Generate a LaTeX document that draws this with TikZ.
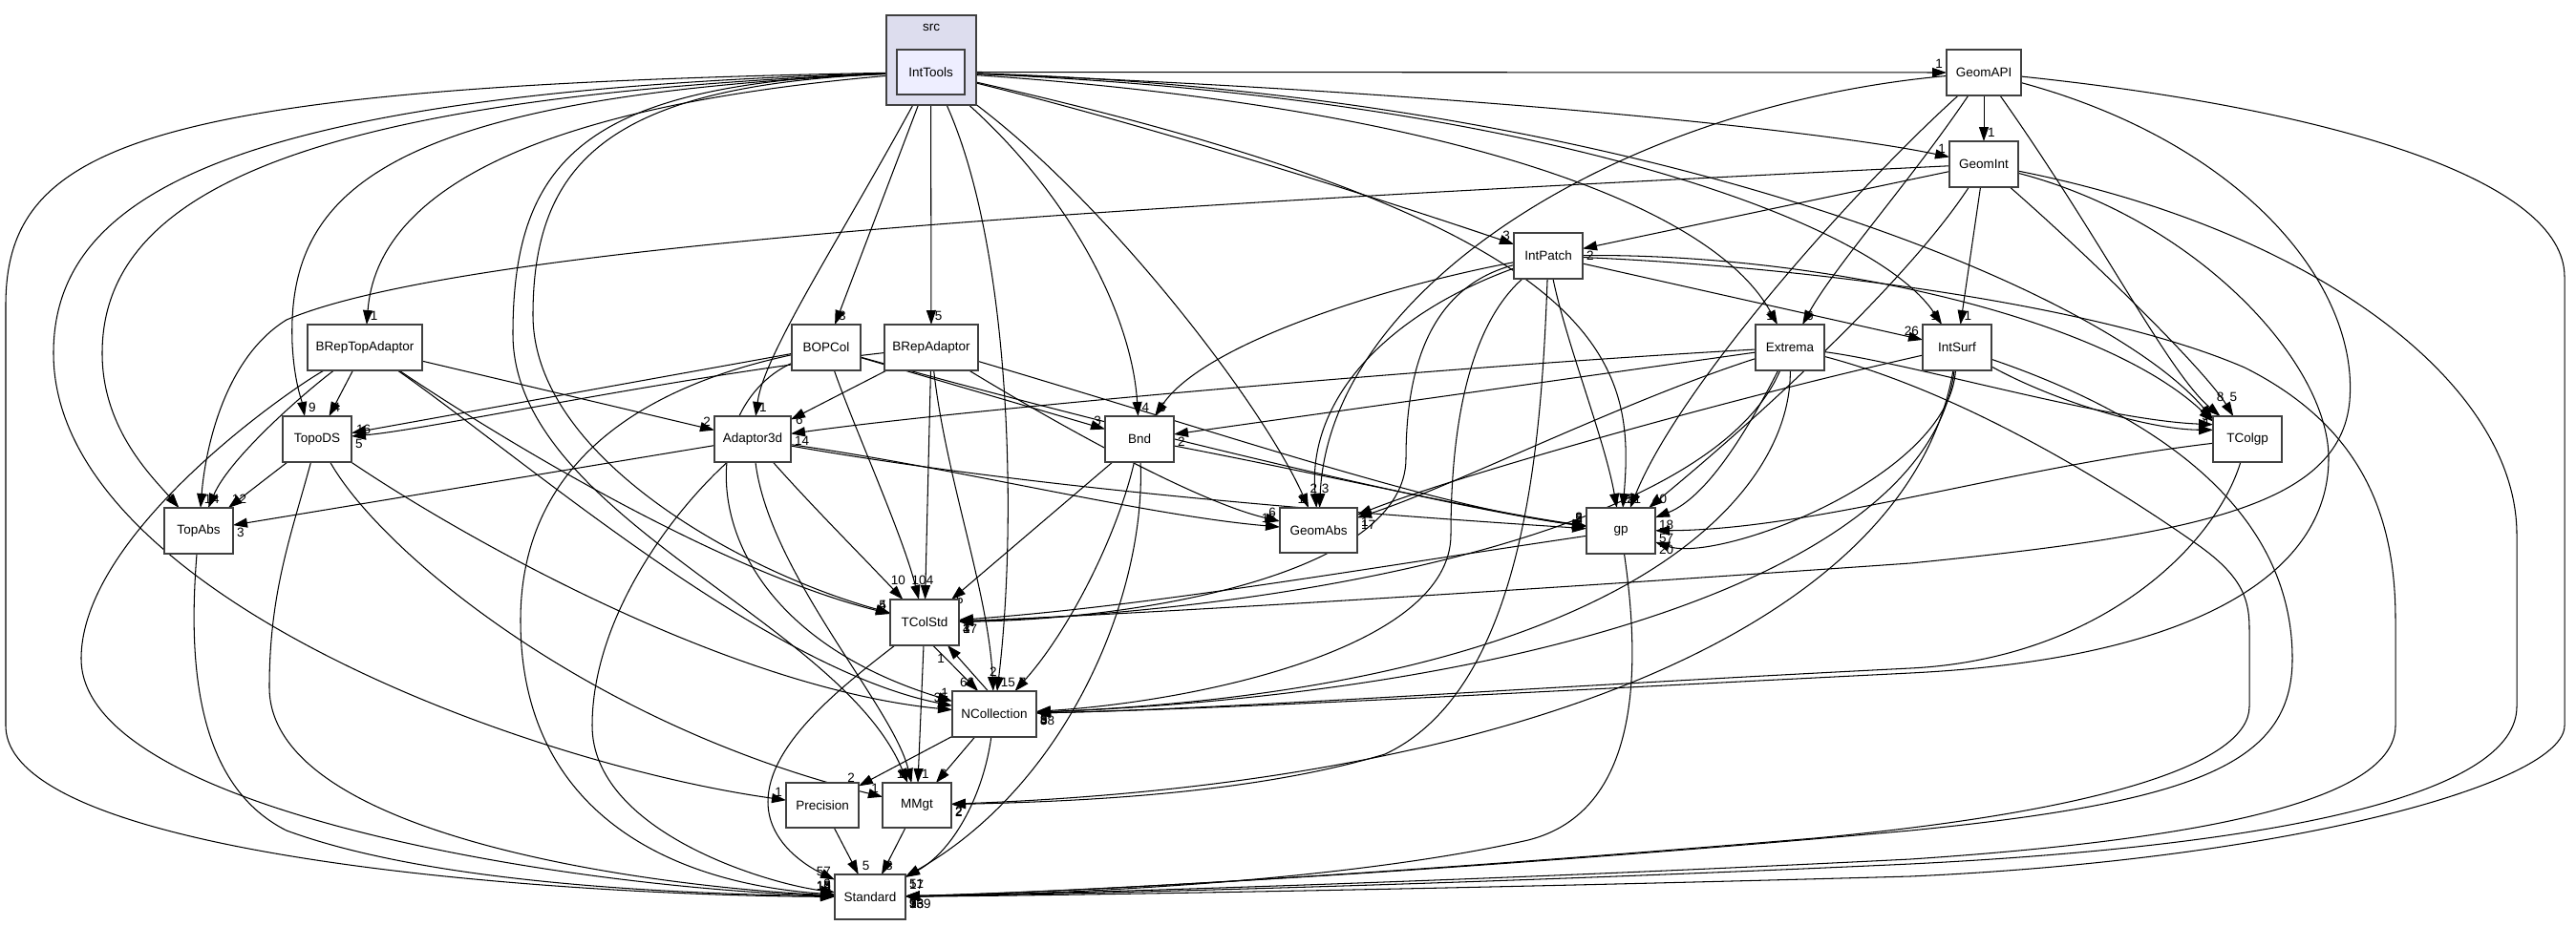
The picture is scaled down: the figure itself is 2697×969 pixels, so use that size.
\documentclass[tikz,border=0pt]{standalone}
\usepackage{fontspec}
\setmainfont{Liberation Sans}
\usetikzlibrary{arrows.meta}
\pgfdeclarelayer{edgelayer}
\pgfdeclarelayer{bglayer}
\pgfsetlayers{bglayer,edgelayer,main}
\definecolor{clusterfill}{HTML}{DDDDEE}
\definecolor{mainfill}{HTML}{EEEEFF}
\definecolor{boxline}{HTML}{404040}
\newcommand{\lblfont}{\fontsize{13.5}{14}\selectfont}
\begin{document}
\begin{tikzpicture}[x=1pt,y=-1pt,
  box/.style={draw=boxline, line width=1.4pt, fill=white, minimum height=48pt, minimum width=72pt, inner sep=0pt, outer sep=0pt, font=\lblfont},
  dep/.style={draw=black, line width=1.05pt, -{Triangle[length=15pt,width=10pt]}},
  lbl/.style={font=\lblfont, inner sep=0.5pt, text=black},
  la/.style={lbl, anchor=south west, xshift=3pt, yshift=3pt},
  lb/.style={lbl, anchor=south east, xshift=-3pt, yshift=3pt},
  lc/.style={lbl, anchor=north west, xshift=3pt, yshift=-2pt},
  lu/.style={lbl, anchor=south, yshift=14pt},
  lr/.style={lbl, anchor=west, xshift=4pt},
]
\useasboundingbox (0,0) rectangle (2697,969);
\begin{pgfonlayer}{bglayer}
\fill[white] (0,0) rectangle (2697,969);
\end{pgfonlayer}

% cluster
\node[draw=boxline, line width=1.4pt, fill=clusterfill, minimum width=94pt, minimum height=94pt, inner sep=0pt] (srcbox) at (975,63) {};
\node[lbl] (srclabel) at (975,29) {src};

% nodes
\node[box, fill=mainfill, minimum width=71pt, minimum height=47pt] (IntTools) at (974.5,75.5) {IntTools};
\node[box, minimum width=78pt] (GeomAPI) at (2077,76) {GeomAPI};
\node[box] (GeomInt) at (2077,172) {GeomInt};
\node[box] (IntPatch) at (1621,268) {IntPatch};
\node[box, minimum width=120pt] (BRepTopAdaptor) at (382,364) {BRepTopAdaptor};
\node[box] (BOPCol) at (865,364) {BOPCol};
\node[box, minimum width=98pt] (BRepAdaptor) at (975,364) {BRepAdaptor};
\node[box] (Extrema) at (1874,364) {Extrema};
\node[box] (IntSurf) at (2049,364) {IntSurf};
\node[box] (TopoDS) at (332,460) {TopoDS};
\node[box, minimum width=80pt] (Adaptor3d) at (788,460) {Adaptor3d};
\node[box] (Bnd) at (1193,460) {Bnd};
\node[box] (TColgp) at (2353,460) {TColgp};
\node[box] (TopAbs) at (208,556) {TopAbs};
\node[box, minimum width=81pt, minimum height=47pt] (GeomAbs) at (1380.5,555.5) {GeomAbs};
\node[box] (gp) at (1697,556) {gp};
\node[box] (TColStd) at (968,652) {TColStd};
\node[box, minimum width=88pt] (NCollection) at (1041,748) {NCollection};
\node[box, minimum width=76pt, minimum height=47pt] (Precision) at (861,843.5) {Precision};
\node[box, minimum height=47pt] (MMgt) at (960,843.5) {MMgt};
\node[box, minimum width=74pt, minimum height=47pt] (Standard) at (911,939.5) {Standard};

\begin{pgfonlayer}{edgelayer}
% IntTools
\draw[dep] (IntTools) -- (GeomAPI) node[at end, lb]{1};
\draw[dep] (IntTools) .. controls (1500,95) and (1900,135) .. (GeomInt) node[at end, lb]{1};
\draw[dep] (IntTools) .. controls (1200,130) and (1450,210) .. (IntPatch) node[at end, lb]{3};
\draw[dep] (IntTools) .. controls (1500,110) and (1790,210) .. (Extrema) node[at end, lb]{1};
\draw[dep] (IntTools) .. controls (1600,100) and (1960,230) .. (IntSurf) node[at end, lb]{1};
\draw[dep] (IntTools) .. controls (1700,95) and (2200,300) .. (TColgp.150) node[at end, lb]{1};
\draw[dep] (IntTools) .. controls (1690,235) and (1712,380) .. (gp) node[at end, la]{2};
\draw[dep] (IntTools) .. controls (1150,200) and (1320,420) .. (GeomAbs) node[at end, lb]{1};
\draw[dep] (IntTools) .. controls (1120,200) and (1185,330) .. (Bnd) node[at end, la]{4};
\draw[dep] (IntTools) -- (BRepAdaptor) node[at end, la]{5};
\draw[dep] (IntTools) -- (BOPCol) node[at end, la]{3};
\draw[dep] (IntTools) .. controls (880,250) and (800,370) .. (Adaptor3d) node[at end, la]{1};
\draw[dep] (IntTools) .. controls (1060,250) and (1065,550) .. (NCollection) node[at end, la]{15};
\draw[dep] (IntTools) .. controls (650,88) and (558,160) .. (558,330) .. controls (558,480) and (780,600) .. (TColStd) node[at end, lb]{4};
\draw[dep] (IntTools) .. controls (620,86) and (537,160) .. (537,350) .. controls (537,540) and (880,650) .. (MMgt) node[at end, lb]{1};
\draw[dep] (IntTools) .. controls (250,95) and (56,200) .. (56,370) .. controls (56,620) and (550,800) .. (Precision) node[at end, lb]{1};
\draw[dep] (IntTools) .. controls (150,90) and (6,150) .. (6,320) -- (6,760) .. controls (6,900) and (600,938) .. (Standard) node[at end, lb]{5};
\draw[dep] (IntTools) .. controls (320,100) and (107,200) .. (107,370) .. controls (107,450) and (160,500) .. (TopAbs) node[at end, lb]{6};
\draw[dep] (IntTools) .. controls (400,100) and (300,200) .. (306,360) .. controls (308,400) and (316,420) .. ([xshift=-13pt]TopoDS.north) node[at end, la]{9};
\draw[dep] (IntTools) .. controls (560,110) and (395,200) .. (BRepTopAdaptor) node[at end, la]{1};

% GeomAPI
\draw[dep] (GeomAPI) -- (GeomInt) node[at end, la]{1};
\draw[dep] (GeomAPI) .. controls (1950,190) and (1760,400) .. (gp) node[at end, la]{1};
\draw[dep] (GeomAPI) .. controls (2000,190) and (1920,280) .. (Extrema) node[at end, la]{6};
\draw[dep] (GeomAPI) .. controls (2200,250) and (2270,390) .. (TColgp) node[at end, lu]{8};
\draw[dep] (GeomAPI) .. controls (1700,110) and (1392,300) .. (GeomAbs) node[at end, lu, xshift=6pt]{3};
\draw[dep] (GeomAPI) .. controls (2350,150) and (2470,300) .. (2460,420) .. controls (2450,530) and (2300,560) .. (2000,590) .. controls (1500,625) and (1150,645) .. (TColStd) node[at end, lc]{37};
\draw[dep] (GeomAPI) .. controls (2450,115) and (2685,190) .. (2685,290) -- (2685,760) .. controls (2685,820) and (2400,900) .. (2000,918) .. controls (1500,932) and (1100,938) .. (Standard) node[at end, lc]{139};

% GeomInt
\draw[dep] (GeomInt) -- (IntPatch) node[at end, lc]{2};
\draw[dep] (GeomInt) -- (IntSurf) node[at end, la]{1};
\draw[dep] (GeomInt) .. controls (2200,280) and (2310,390) .. (TColgp) node[at end, lu]{5};
\draw[dep] (GeomInt) .. controls (1300,210) and (500,250) .. (300,335) .. controls (235,375) and (215,470) .. (TopAbs) node[at end, la]{1};
\draw[dep] (GeomInt) .. controls (2000,290) and (1850,430) .. (gp) node[at end, la]{40};
\draw[dep] (GeomInt) .. controls (2300,230) and (2438,380) .. (2438,480) .. controls (2438,600) and (2300,690) .. (2000,705) .. controls (1600,725) and (1300,742) .. (NCollection) node[at end, lc]{58};
\draw[dep] (GeomInt) .. controls (2420,240) and (2635,400) .. (2635,560) -- (2635,740) .. controls (2635,830) and (2400,885) .. (2000,905) .. controls (1500,928) and (1100,937) .. (Standard) node[at end, lc]{13};

% IntPatch
\draw[dep] (IntPatch) -- (IntSurf) node[at end, lb]{26};
\draw[dep] (IntPatch) .. controls (1900,265) and (2200,330) .. (TColgp.153) node[at end, lb]{2};
\draw[dep] (IntPatch) .. controls (1900,280) and (2200,320) .. (2350,385) .. controls (2480,450) and (2508,550) .. (2508,650) -- (2508,760) .. controls (2508,840) and (2300,880) .. (2000,900) .. controls (1500,925) and (1100,936) .. (Standard) node[at end, lc]{76};
\draw[dep] (IntPatch) .. controls (1450,300) and (1260,360) .. (Bnd) node[at end, la]{5};
\draw[dep] (IntPatch) .. controls (1450,330) and (1368,420) .. (GeomAbs) node[at end, lu, xshift=-3pt]{2};
\draw[dep] (IntPatch) .. controls (1640,360) and (1680,460) .. (gp) node[at end, la]{25};
\draw[dep] (IntPatch) .. controls (1500,300) and (1472,380) .. (1472,480) .. controls (1472,600) and (1200,648) .. (TColStd) node[at end, lc]{4};
\draw[dep] (IntPatch) .. controls (1540,340) and (1519,440) .. (1519,560) .. controls (1519,680) and (1250,735) .. (NCollection) node[at end, lc]{5};
\draw[dep] (IntPatch) .. controls (1614,450) and (1600,720) .. (1450,790) .. controls (1300,835) and (1100,840) .. (MMgt) node[at end, lc]{2};

% Extrema
\draw[dep] (Extrema) .. controls (1500,385) and (1000,430) .. (Adaptor3d) node[at end, lc]{14};
\draw[dep] (Extrema) -- (Bnd) node[at end, lc]{2};
\draw[dep] (Extrema) .. controls (1700,420) and (1520,510) .. (GeomAbs) node[at end, lc]{17};
\draw[dep] (Extrema) .. controls (1835,440) and (1790,520) .. (gp) node[at end, lc]{18};
\draw[dep] (Extrema) .. controls (2000,380) and (2200,440) .. (TColgp.157) node[at end, lb]{5};
\draw[dep] (Extrema) .. controls (1790,560) and (1350,640) .. (TColStd) node[at end, lc]{1};
\draw[dep] (Extrema) .. controls (1876,520) and (1700,720) .. (NCollection) node[at end, lc]{5};
\draw[dep] (Extrema) .. controls (2050,410) and (2200,500) .. (2300,570) .. controls (2350,605) and (2355,630) .. (2355,660) -- (2355,740) .. controls (2355,800) and (2200,850) .. (1900,878) .. controls (1400,920) and (1100,935) .. (Standard) node[at end, lc]{5};

% IntSurf
\draw[dep] (IntSurf) .. controls (2150,420) and (2250,450) .. (TColgp.165) node[at end, lb]{4};
\draw[dep] (IntSurf) .. controls (2040,500) and (1800,590) .. (gp) node[at end, lc]{20};
\draw[dep] (IntSurf) .. controls (1800,420) and (1520,500) .. (GeomAbs) node[at end, lc]{1};
\draw[dep] (IntSurf) .. controls (2020,600) and (1600,725) .. (NCollection) node[at end, lc]{8};
\draw[dep] (IntSurf) .. controls (2000,650) and (1600,820) .. (MMgt) node[at end, lc]{2};
\draw[dep] (IntSurf) .. controls (2300,450) and (2400,560) .. (2400,690) .. controls (2400,800) and (2300,840) .. (2000,870) .. controls (1500,915) and (1100,935) .. (Standard) node[at end, lc]{9};

% BRepTopAdaptor
\draw[dep] (BRepTopAdaptor) -- (TopoDS) node[at end, la]{4};
\draw[dep] (BRepTopAdaptor) .. controls (320,410) and (240,480) .. (TopAbs) node[at end, la]{4};
\draw[dep] (BRepTopAdaptor) -- (Adaptor3d) node[at end, lb]{2};
\draw[dep] (BRepTopAdaptor) .. controls (540,470) and (760,600) .. (TColStd) node[at end, lb]{5};
\draw[dep] (BRepTopAdaptor) .. controls (545,478) and (800,700) .. (NCollection) node[at end, lb]{35};
\draw[dep] (BRepTopAdaptor) .. controls (300,410) and (85,560) .. (85,690) .. controls (85,850) and (600,930) .. (Standard) node[at end, lb]{4};

% TopoDS
\draw[dep] (TopoDS) -- (TopAbs) node[at end, la]{12};
\draw[dep] (TopoDS) .. controls (305,560) and (282,620) .. (282,720) .. controls (282,880) and (700,930) .. (Standard) node[at end, lb]{10};
\draw[dep] (TopoDS) .. controls (400,580) and (620,760) .. (MMgt) node[at end, lb]{1};
\draw[dep] (TopoDS) .. controls (480,560) and (760,720) .. (NCollection) node[at end, lb]{1};

% BOPCol
\draw[dep] (BOPCol) -- (TopoDS) node[at end, lr, yshift=4pt]{16};
\draw[dep] (BOPCol) -- (Bnd) node[at end, lb]{3};
\draw[dep] (BOPCol) .. controls (1100,430) and (1500,530) .. (gp) node[at end, lb]{5};
\draw[dep] (BOPCol) .. controls (895,450) and (945,560) .. (TColStd) node[at end, lu]{10};
\draw[dep] (BOPCol) .. controls (720,430) and (720,650) .. (NCollection) node[at end, lb]{1};
\draw[dep] (BOPCol) .. controls (650,410) and (545,500) .. (545,650) .. controls (545,850) and (700,925) .. (Standard) node[at end, lb]{13};

% BRepAdaptor
\draw[dep] (BRepAdaptor) .. controls (700,395) and (450,450) .. (TopoDS) node[at end, lc]{5};
\draw[dep] (BRepAdaptor) -- (Adaptor3d) node[at end, lr]{6};
\draw[dep] (BRepAdaptor) -- (TColStd) node[at end, lu, xshift=5pt]{4};
\draw[dep] (BRepAdaptor) .. controls (990,500) and (1035,620) .. (NCollection) node[at end, lu]{2};
\draw[dep] (BRepAdaptor) .. controls (1100,440) and (1250,525) .. (GeomAbs) node[at end, lb]{6};
\draw[dep] (BRepAdaptor) .. controls (1300,460) and (1500,530) .. (gp) node[at end, lb]{2};

% Adaptor3d
\draw[dep] (Adaptor3d) -- (TopAbs) node[at end, lc]{3};
\draw[dep] (Adaptor3d) .. controls (1000,490) and (1200,540) .. (GeomAbs) node[at end, lb]{15};
\draw[dep] (Adaptor3d) .. controls (1100,515) and (1450,540) .. (gp) node[at end, lb]{8};
\draw[dep] (Adaptor3d) .. controls (850,530) and (900,580) .. (TColStd) node[at end, lu, xshift=-5pt]{10};
\draw[dep] (Adaptor3d) .. controls (805,600) and (935,740) .. (MMgt) node[at end, lb]{3};
\draw[dep] (Adaptor3d) .. controls (700,540) and (620,650) .. (620,760) .. controls (620,870) and (800,925) .. (Standard) node[at end, lb]{9};

% Bnd
\draw[dep] (Bnd) .. controls (1400,500) and (1550,535) .. (gp) node[at end, lb]{2};
\draw[dep] (Bnd) -- (TColStd) node[at end, lr]{5};
\draw[dep] (Bnd) .. controls (1170,560) and (1120,660) .. (NCollection) node[at end, la]{7};
\draw[dep] (Bnd) .. controls (1200,620) and (1120,820) .. (Standard) node[at end, lc]{51};

% TColgp
\draw[dep] (TColgp) .. controls (2100,490) and (1900,555) .. (gp) node[at end, lc]{57};
\draw[dep] (TColgp) .. controls (2320,570) and (2200,690) .. (2000,700) .. controls (1600,720) and (1300,742) .. (NCollection) node[at end, lc]{3};

% gp
\draw[dep] (gp) .. controls (1400,600) and (1200,635) .. (TColStd) node[at end, lc]{1};
\draw[dep] (gp) .. controls (1718,700) and (1718,850) .. (1600,880) .. controls (1400,925) and (1100,937) .. (Standard) node[at end, lc]{3};

% TopAbs
\draw[dep] (TopAbs) .. controls (198,680) and (200,820) .. (300,870) .. controls (450,925) and (700,936) .. (Standard) node[at end, lb]{2};

% TColStd
\draw[dep] (TColStd.-70) -- (NCollection.125) node[at end, lb]{66};
\draw[dep] (NCollection.105) -- (TColStd.-45) node[at end, lbl, anchor=north east, xshift=-2pt, yshift=-8pt]{1};
\draw[dep] (TColStd) -- (MMgt) node[at end, la]{1};
\draw[dep] (TColStd) .. controls (880,720) and (804,780) .. (804,840) .. controls (804,880) and (840,905) .. (Standard) node[at end, lb]{57};

% NCollection
\draw[dep] (NCollection) -- (Precision) node[at end, lb]{2};
\draw[dep] (NCollection) -- (MMgt) node[at end, la]{6};
\draw[dep] (NCollection) .. controls (1030,830) and (1000,890) .. (Standard) node[at end, lc]{17};

% Precision, MMgt
\draw[dep] (Precision) -- (Standard) node[at end, la]{5};
\draw[dep] (MMgt) -- (Standard) node[at end, la]{3};
\end{pgfonlayer}
\end{tikzpicture}
\end{document}
